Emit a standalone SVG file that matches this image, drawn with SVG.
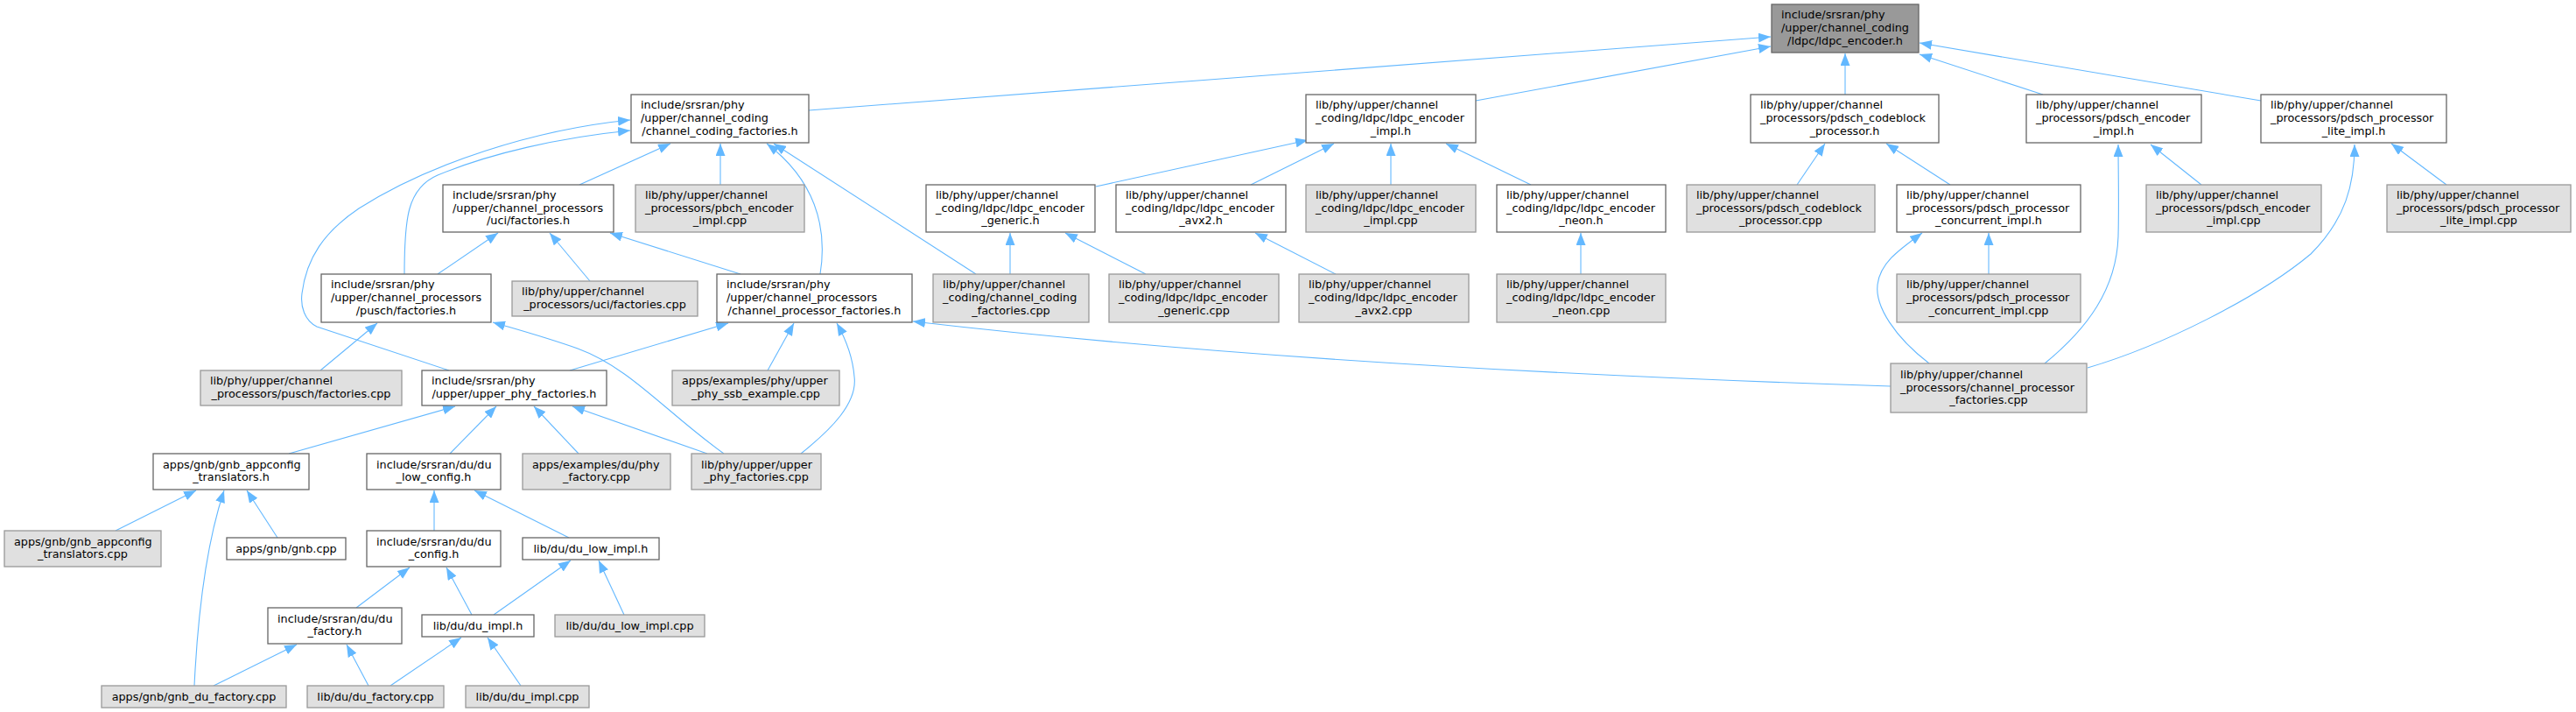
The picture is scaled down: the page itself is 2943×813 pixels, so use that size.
<svg xmlns="http://www.w3.org/2000/svg" width="2943" height="813" viewBox="0 0 2943 813">
<style>
text{font-family:"DejaVu Sans","Liberation Sans",sans-serif;font-size:12.8px;fill:#000}
.m{text-anchor:middle}
.w{fill:#fff;stroke:#666;stroke-width:1.3}
.g{fill:#e0e0e0;stroke:#999;stroke-width:1.3}
.r{fill:#999;stroke:#666;stroke-width:1.3}
.e{fill:none;stroke:#63b8ff;stroke-width:1.1;marker-end:url(#ah)}
</style>
<defs>
<marker id="ah" markerUnits="userSpaceOnUse" markerWidth="14" markerHeight="11" viewBox="0 0 14 11" refX="14" refY="5.5" orient="auto"><path d="M0,0 L14,5.5 L0,11 z" fill="#63b8ff"/></marker>
</defs>
<rect width="2943" height="813" fill="#fff"/>
<g id="edges">
<path class="e" d="M924,126 L2023,42"/>
<path class="e" d="M1686,115 L2023,53"/>
<path class="e" d="M2108,108 L2108,61"/>
<path class="e" d="M2334,108 L2193,62"/>
<path class="e" d="M2583,115 L2193,49"/>
<path class="e" d="M662,211 L766,164"/>
<path class="e" d="M823,211 L823,164"/>
<path class="e" d="M937,313 C946,258 930,205 876,164"/>
<path class="e" d="M1115,313 L884,164"/>
<path class="e" d="M462,313 C462,250 465,215 500,200 C560,175 640,157 720,149"/>
<path class="e" d="M513,423 L362,373 C348,366 343,350 345,335 C350,295 370,265 410,238 C490,187 610,148 720,137"/>
<path class="e" d="M500,313 L569,266"/>
<path class="e" d="M674,321 L628,266"/>
<path class="e" d="M846,313 L697,266"/>
<path class="e" d="M366,423 L431,369"/>
<path class="e" d="M827,518 C760,470 720,420 660,398 C620,384 590,376 563,368"/>
<path class="e" d="M915,518 C950,490 980,460 976,430 C974,405 965,385 956,369"/>
<path class="e" d="M808,518 L654,464"/>
<path class="e" d="M877,423 L907,369"/>
<path class="e" d="M651,423 L832,369"/>
<path class="e" d="M2160,441 Q1500,420 1043,367"/>
<path class="e" d="M330,518 L520,464"/>
<path class="e" d="M514,518 L567,464"/>
<path class="e" d="M661,518 L610,464"/>
<path class="e" d="M132,606 L224,560"/>
<path class="e" d="M222,783 C226,700 236,620 256,560"/>
<path class="e" d="M317,614 L282,560"/>
<path class="e" d="M496,606 L496,560"/>
<path class="e" d="M650,614 L542,560"/>
<path class="e" d="M407,694 L468,648"/>
<path class="e" d="M539,702 L510,648"/>
<path class="e" d="M564,702 L652,640"/>
<path class="e" d="M713,702 L684,640"/>
<path class="e" d="M244,783 L339,736"/>
<path class="e" d="M421,783 L396,736"/>
<path class="e" d="M446,783 L527,728"/>
<path class="e" d="M595,783 L557,728"/>
<path class="e" d="M1252,213 L1494,160"/>
<path class="e" d="M1429,211 L1524,164"/>
<path class="e" d="M1589,211 L1589,164"/>
<path class="e" d="M1749,211 L1652,164"/>
<path class="e" d="M1154,313 L1154,266"/>
<path class="e" d="M1309,313 L1217,266"/>
<path class="e" d="M1526,313 L1434,266"/>
<path class="e" d="M1806,313 L1806,266"/>
<path class="e" d="M2053,211 L2085,164"/>
<path class="e" d="M2228,211 L2155,164"/>
<path class="e" d="M2272,313 L2272,266"/>
<path class="e" d="M2204,415 C2165,385 2142,350 2145,325 C2148,300 2170,285 2196,266"/>
<path class="e" d="M2515,211 L2457,165"/>
<path class="e" d="M2336,415 C2385,375 2418,330 2420,270 C2421,230 2420,195 2420,165"/>
<path class="e" d="M2795,211 L2732,164"/>
<path class="e" d="M2385,420 C2470,395 2580,340 2640,290 C2680,250 2690,210 2690,165"/>
</g>
<g id="n0"><rect class="r" x="2024" y="5" width="168" height="55"/><text x="2035" y="21.3">include/srsran/phy</text><text x="2035" y="36">/upper/channel_coding</text><text class="m" x="2108" y="50.7">/ldpc/ldpc_encoder.h</text></g>
<g id="n1"><rect class="w" x="721" y="108" width="203" height="55"/><text x="732" y="124.3">include/srsran/phy</text><text x="732" y="139">/upper/channel_coding</text><text class="m" x="822.5" y="153.7">/channel_coding_factories.h</text></g>
<g id="n2"><rect class="w" x="1492" y="108" width="194" height="55"/><text x="1503" y="124.3">lib/phy/upper/channel</text><text x="1503" y="139">_coding/ldpc/ldpc_encoder</text><text class="m" x="1589" y="153.7">_impl.h</text></g>
<g id="n3"><rect class="w" x="2000" y="108" width="215" height="55"/><text x="2011" y="124.3">lib/phy/upper/channel</text><text x="2011" y="139">_processors/pdsch_codeblock</text><text class="m" x="2107.5" y="153.7">_processor.h</text></g>
<g id="n4"><rect class="w" x="2315" y="108" width="200" height="55"/><text x="2326" y="124.3">lib/phy/upper/channel</text><text x="2326" y="139">_processors/pdsch_encoder</text><text class="m" x="2415" y="153.7">_impl.h</text></g>
<g id="n5"><rect class="w" x="2583" y="108" width="212" height="55"/><text x="2594" y="124.3">lib/phy/upper/channel</text><text x="2594" y="139">_processors/pdsch_processor</text><text class="m" x="2689" y="153.7">_lite_impl.h</text></g>
<g id="n6"><rect class="w" x="506" y="211" width="195" height="54"/><text x="517" y="226.8">include/srsran/phy</text><text x="517" y="241.5">/upper/channel_processors</text><text class="m" x="603.5" y="256.2">/uci/factories.h</text></g>
<g id="n7"><rect class="g" x="726" y="211" width="193" height="54"/><text x="737" y="226.8">lib/phy/upper/channel</text><text x="737" y="241.5">_processors/pbch_encoder</text><text class="m" x="822.5" y="256.2">_impl.cpp</text></g>
<g id="n8"><rect class="w" x="1058" y="211" width="193" height="54"/><text x="1069" y="226.8">lib/phy/upper/channel</text><text x="1069" y="241.5">_coding/ldpc/ldpc_encoder</text><text class="m" x="1154.5" y="256.2">_generic.h</text></g>
<g id="n9"><rect class="w" x="1275" y="211" width="194" height="54"/><text x="1286" y="226.8">lib/phy/upper/channel</text><text x="1286" y="241.5">_coding/ldpc/ldpc_encoder</text><text class="m" x="1372" y="256.2">_avx2.h</text></g>
<g id="n10"><rect class="g" x="1492" y="211" width="194" height="54"/><text x="1503" y="226.8">lib/phy/upper/channel</text><text x="1503" y="241.5">_coding/ldpc/ldpc_encoder</text><text class="m" x="1589" y="256.2">_impl.cpp</text></g>
<g id="n11"><rect class="w" x="1710" y="211" width="193" height="54"/><text x="1721" y="226.8">lib/phy/upper/channel</text><text x="1721" y="241.5">_coding/ldpc/ldpc_encoder</text><text class="m" x="1806.5" y="256.2">_neon.h</text></g>
<g id="n12"><rect class="g" x="1927" y="211" width="215" height="54"/><text x="1938" y="226.8">lib/phy/upper/channel</text><text x="1938" y="241.5">_processors/pdsch_codeblock</text><text class="m" x="2034.5" y="256.2">_processor.cpp</text></g>
<g id="n13"><rect class="w" x="2167" y="211" width="210" height="54"/><text x="2178" y="226.8">lib/phy/upper/channel</text><text x="2178" y="241.5">_processors/pdsch_processor</text><text class="m" x="2272" y="256.2">_concurrent_impl.h</text></g>
<g id="n14"><rect class="g" x="2452" y="211" width="200" height="54"/><text x="2463" y="226.8">lib/phy/upper/channel</text><text x="2463" y="241.5">_processors/pdsch_encoder</text><text class="m" x="2552" y="256.2">_impl.cpp</text></g>
<g id="n15"><rect class="g" x="2727" y="211" width="210" height="54"/><text x="2738" y="226.8">lib/phy/upper/channel</text><text x="2738" y="241.5">_processors/pdsch_processor</text><text class="m" x="2832" y="256.2">_lite_impl.cpp</text></g>
<g id="n16"><rect class="w" x="367" y="313" width="194" height="55"/><text x="378" y="329.3">include/srsran/phy</text><text x="378" y="344">/upper/channel_processors</text><text class="m" x="464" y="358.7">/pusch/factories.h</text></g>
<g id="n17"><rect class="g" x="585" y="321" width="212" height="40"/><text x="596" y="337.2">lib/phy/upper/channel</text><text class="m" x="691" y="351.9">_processors/uci/factories.cpp</text></g>
<g id="n18"><rect class="w" x="819" y="313" width="223" height="55"/><text x="830" y="329.3">include/srsran/phy</text><text x="830" y="344">/upper/channel_processors</text><text class="m" x="930.5" y="358.7">/channel_processor_factories.h</text></g>
<g id="n19"><rect class="g" x="1066" y="313" width="178" height="55"/><text x="1077" y="329.3">lib/phy/upper/channel</text><text x="1077" y="344">_coding/channel_coding</text><text class="m" x="1155" y="358.7">_factories.cpp</text></g>
<g id="n20"><rect class="g" x="1267" y="313" width="194" height="55"/><text x="1278" y="329.3">lib/phy/upper/channel</text><text x="1278" y="344">_coding/ldpc/ldpc_encoder</text><text class="m" x="1364" y="358.7">_generic.cpp</text></g>
<g id="n21"><rect class="g" x="1484" y="313" width="194" height="55"/><text x="1495" y="329.3">lib/phy/upper/channel</text><text x="1495" y="344">_coding/ldpc/ldpc_encoder</text><text class="m" x="1581" y="358.7">_avx2.cpp</text></g>
<g id="n22"><rect class="g" x="1710" y="313" width="193" height="55"/><text x="1721" y="329.3">lib/phy/upper/channel</text><text x="1721" y="344">_coding/ldpc/ldpc_encoder</text><text class="m" x="1806.5" y="358.7">_neon.cpp</text></g>
<g id="n23"><rect class="g" x="2167" y="313" width="210" height="55"/><text x="2178" y="329.3">lib/phy/upper/channel</text><text x="2178" y="344">_processors/pdsch_processor</text><text class="m" x="2272" y="358.7">_concurrent_impl.cpp</text></g>
<g id="n24"><rect class="g" x="229" y="423" width="230" height="40"/><text x="240" y="439.2">lib/phy/upper/channel</text><text class="m" x="344" y="453.9">_processors/pusch/factories.cpp</text></g>
<g id="n25"><rect class="w" x="482" y="423" width="211" height="40"/><text x="493" y="439.2">include/srsran/phy</text><text class="m" x="587.5" y="453.9">/upper/upper_phy_factories.h</text></g>
<g id="n26"><rect class="g" x="768" y="423" width="191" height="40"/><text x="779" y="439.2">apps/examples/phy/upper</text><text class="m" x="863.5" y="453.9">_phy_ssb_example.cpp</text></g>
<g id="n27"><rect class="g" x="2160" y="415" width="224" height="56"/><text x="2171" y="431.8">lib/phy/upper/channel</text><text x="2171" y="446.5">_processors/channel_processor</text><text class="m" x="2272" y="461.2">_factories.cpp</text></g>
<g id="n28"><rect class="w" x="175" y="518" width="178" height="41"/><text x="186" y="534.7">apps/gnb/gnb_appconfig</text><text class="m" x="264" y="549.4">_translators.h</text></g>
<g id="n29"><rect class="w" x="419" y="518" width="153" height="41"/><text x="430" y="534.7">include/srsran/du/du</text><text class="m" x="495.5" y="549.4">_low_config.h</text></g>
<g id="n30"><rect class="g" x="597" y="518" width="169" height="41"/><text x="608" y="534.7">apps/examples/du/phy</text><text class="m" x="681.5" y="549.4">_factory.cpp</text></g>
<g id="n31"><rect class="g" x="790" y="518" width="148" height="41"/><text x="801" y="534.7">lib/phy/upper/upper</text><text class="m" x="864" y="549.4">_phy_factories.cpp</text></g>
<g id="n32"><rect class="g" x="5" y="606" width="179" height="41"/><text x="16" y="622.7">apps/gnb/gnb_appconfig</text><text class="m" x="94.5" y="637.4">_translators.cpp</text></g>
<g id="n33"><rect class="w" x="259" y="614" width="136" height="25"/><text class="m" x="327" y="630.5">apps/gnb/gnb.cpp</text></g>
<g id="n34"><rect class="w" x="419" y="606" width="153" height="41"/><text x="430" y="622.7">include/srsran/du/du</text><text class="m" x="495.5" y="637.4">_config.h</text></g>
<g id="n35"><rect class="w" x="597" y="614" width="156" height="25"/><text class="m" x="675" y="630.5">lib/du/du_low_impl.h</text></g>
<g id="n36"><rect class="w" x="306" y="694" width="153" height="41"/><text x="317" y="710.7">include/srsran/du/du</text><text class="m" x="382.5" y="725.4">_factory.h</text></g>
<g id="n37"><rect class="w" x="482" y="702" width="128" height="25"/><text class="m" x="546" y="718.5">lib/du/du_impl.h</text></g>
<g id="n38"><rect class="g" x="634" y="702" width="171" height="25"/><text class="m" x="719.5" y="718.5">lib/du/du_low_impl.cpp</text></g>
<g id="n39"><rect class="g" x="116" y="783" width="211" height="25"/><text class="m" x="221.5" y="799.5">apps/gnb/gnb_du_factory.cpp</text></g>
<g id="n40"><rect class="g" x="351" y="783" width="156" height="25"/><text class="m" x="429" y="799.5">lib/du/du_factory.cpp</text></g>
<g id="n41"><rect class="g" x="532" y="783" width="141" height="25"/><text class="m" x="602.5" y="799.5">lib/du/du_impl.cpp</text></g>
</svg>
